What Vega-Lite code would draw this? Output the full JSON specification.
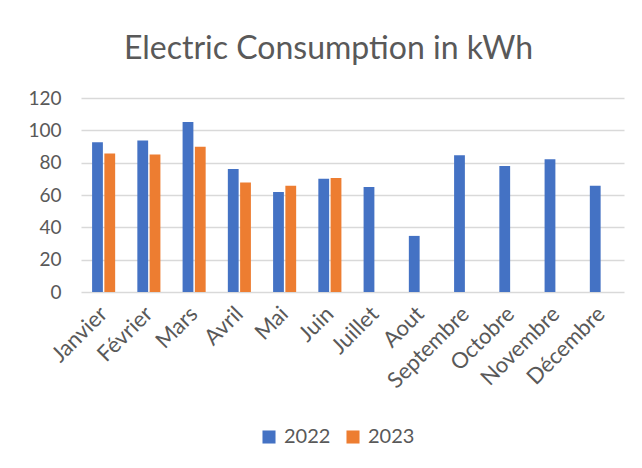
{
  "$schema": "https://vega.github.io/schema/vega-lite/v6.json",
  "autosize": "none",
  "width": 543,
  "height": 194,
  "padding": {"left": 81, "top": 98, "right": 18, "bottom": 176},
  "background": "white",
  "title": {
    "text": "Electric Consumption in kWh",
    "font": "Lato",
    "fontSize": 32,
    "fontWeight": "normal",
    "color": "#595959",
    "anchor": "middle",
    "baseline": "alphabetic",
    "offset": 40,
    "dy": 42,
    "dx": -24
  },
  "data": {
    "values": [
      {"month": "Janvier", "year": "2022", "value": 92.6},
      {"month": "Janvier", "year": "2023", "value": 85.6},
      {"month": "Février", "year": "2022", "value": 93.7},
      {"month": "Février", "year": "2023", "value": 85},
      {"month": "Mars", "year": "2022", "value": 105.2},
      {"month": "Mars", "year": "2023", "value": 89.8},
      {"month": "Avril", "year": "2022", "value": 76.1},
      {"month": "Avril", "year": "2023", "value": 67.8},
      {"month": "Mai", "year": "2022", "value": 61.8},
      {"month": "Mai", "year": "2023", "value": 65.7},
      {"month": "Juin", "year": "2022", "value": 70.1},
      {"month": "Juin", "year": "2023", "value": 70.5},
      {"month": "Juillet", "year": "2022", "value": 65},
      {"month": "Aout", "year": "2022", "value": 34.7},
      {"month": "Septembre", "year": "2022", "value": 84.6},
      {"month": "Octobre", "year": "2022", "value": 78},
      {"month": "Novembre", "year": "2022", "value": 82.1},
      {"month": "Décembre", "year": "2022", "value": 65.7}
    ]
  },
  "mark": {"type": "bar"},
  "encoding": {
    "x": {
      "field": "month",
      "type": "nominal",
      "sort": ["Janvier", "Février", "Mars", "Avril", "Mai", "Juin", "Juillet", "Aout", "Septembre", "Octobre", "Novembre", "Décembre"],
      "scale": {"paddingInner": 0.49, "paddingOuter": 0.245},
      "axis": {
        "title": null,
        "labelAngle": -45,
        "labelAlign": "right",
        "labelBaseline": "middle",
        "labelPadding": 18,
        "labelFont": "Lato",
        "labelFontSize": 22,
        "labelColor": "#595959",
        "domain": false,
        "ticks": false,
        "grid": false
      }
    },
    "xOffset": {
      "field": "year",
      "type": "nominal",
      "scale": {"domain": ["2022", "2023"], "paddingInner": 0.12, "paddingOuter": 0}
    },
    "y": {
      "field": "value",
      "type": "quantitative",
      "scale": {"domain": [0, 120], "nice": false},
      "axis": {
        "title": null,
        "values": [0, 20, 40, 60, 80, 100, 120],
        "labelFont": "Lato",
        "labelFontSize": 19,
        "labelColor": "#595959",
        "labelPadding": 20,
        "domain": false,
        "ticks": false,
        "gridColor": "#D9D9D9",
        "gridWidth": 1.3
      }
    },
    "color": {
      "field": "year",
      "type": "nominal",
      "scale": {"domain": ["2022", "2023"], "range": ["#4472C4", "#ED7D31"]},
      "legend": {
        "title": null,
        "orient": "none",
        "direction": "horizontal",
        "legendX": 178,
        "legendY": 329,
        "symbolType": "square",
        "symbolSize": 170,
        "symbolStrokeWidth": 0,
        "labelFont": "Lato",
        "labelFontSize": 20,
        "labelColor": "#595959",
        "columnPadding": 12,
        "labelOffset": 5
      }
    }
  },
  "config": {
    "view": {"stroke": null}
  }
}
